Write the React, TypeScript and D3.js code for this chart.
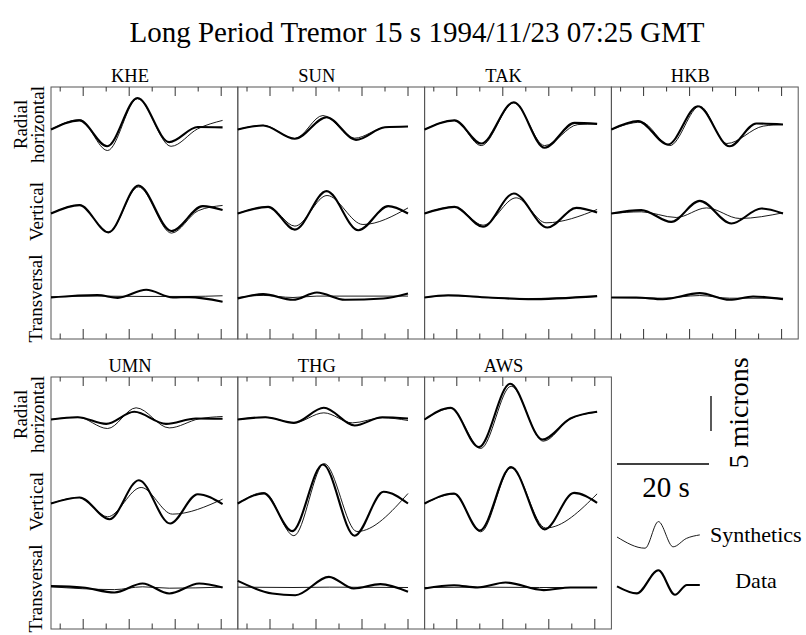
import React from "react";
import * as d3 from "d3";

type P = [number, number];

// ---- data: [time (s), displacement (microns)] ----
const KHE_R_D: P[] = [[0,0],[6.2,1.3],[12.2,-2.4],[18.8,4.5],[25.7,-1.8],[31.9,0.35],[37.3,0.3]];
const KHE_R_S: P[] = [[0,0],[6.2,1.4],[12.3,-3.0],[18.8,4.4],[26.1,-2.4],[31.9,0.1],[37.3,1.3]];
const KHE_V_D: P[] = [[0,0],[6.2,1.2],[12.5,-2.7],[19,4.0],[26.2,-2.5],[33,1.05],[37.3,0.5]];
const KHE_V_S: P[] = [[0,0],[6.2,1.2],[12.5,-2.7],[19,3.8],[26.2,-2.8],[32,0.4],[37.3,1.15]];
const KHE_T_D: P[] = [[0,0],[10.1,0.35],[14.5,-0.05],[20.7,1.1],[26.5,0],[30,0.05],[37.3,-0.6]];
const KHE_T_S: P[] = [[0,0.1],[10,0.2],[20,0.15],[30,0.15],[37.3,0.25]];

const SUN_R_D: P[] = [[0,0],[5.5,0.57],[12.4,-1.33],[19.3,1.76],[25.7,-1.48],[32,0.33],[37,0.43]];
const SUN_R_S: P[] = [[0,0],[5.5,0.6],[12.4,-1.3],[18.5,2.0],[25.4,-1.24],[32,0.3],[37,0.43]];
const SUN_V_D: P[] = [[0,0],[6.6,0.95],[12.4,-2.3],[19.3,3.2],[26.2,-2.4],[32.7,1.05],[37,0]];
const SUN_V_S: P[] = [[0,0],[6.6,0.95],[12.4,-1.8],[19.4,2.57],[27.2,-1.57],[37,0.8]];
const SUN_T_D: P[] = [[0,-0.14],[5.5,0.48],[12,-0.33],[17.2,0.71],[23.3,-0.33],[31.6,-0.14],[37,0.57]];
const SUN_T_S: P[] = [[0,0],[5.5,0.3],[12,0],[17.2,0.2],[37,0.2]];

const TAK_R_D: P[] = [[0,0],[6.5,1.3],[12.3,-2.0],[19.4,3.9],[26.1,-2.6],[32.6,0.95],[37.5,0.8]];
const TAK_R_S: P[] = [[0,0],[6.5,1.3],[12.3,-2.3],[19.4,3.8],[26.1,-2.3],[33.3,0.7],[37.5,0.8]];
const TAK_V_D: P[] = [[0,0],[6.5,0.95],[12.7,-1.9],[19.4,2.86],[26.7,-2.0],[33,0.8],[37.5,0.14]];
const TAK_V_S: P[] = [[0,0],[6.5,0.95],[12.7,-1.67],[19.9,2.24],[26.4,-1.33],[37.5,0.57]];
const TAK_T_D: P[] = [[0,0],[5.1,0.33],[13.8,0],[22.5,-0.24],[37.5,0.2]];
const TAK_T_S: P[] = [[0,0],[5.1,0.25],[14,0],[22.5,-0.15],[37.5,0.15]];

const HKB_R_D: P[] = [[0,0],[5.8,1.2],[12.3,-2.14],[18.8,3.33],[25.7,-2.4],[31.5,0.86],[37.3,0.71]];
const HKB_R_S: P[] = [[0,0],[6.5,1.05],[12.7,-2.3],[19.2,3.33],[25.1,-2.0],[33,0.48],[37.3,0.71]];
const HKB_V_D: P[] = [[0,0],[6.5,0.48],[13,-1.2],[19.2,1.8],[26.1,-1.43],[32.6,0.71],[37.3,0]];
const HKB_V_S: P[] = [[0,0],[6.5,0.24],[14.1,-0.57],[20.7,0.8],[27.9,-0.71],[37.3,0.1]];
const HKB_T_D: P[] = [[0,0],[5.4,0],[11.2,-0.24],[19.2,0.62],[25.7,-0.33],[30.8,0.14],[37.3,-0.24]];
const HKB_T_S: P[] = [[0,0],[11,-0.1],[19.2,0.28],[25.7,-0.1],[37.3,-0.1]];

const UMN_R_D: P[] = [[0,0],[5.8,0.33],[12,-0.62],[18.1,1.1],[25,-0.62],[31.5,0.14],[37.3,0.1]];
const UMN_R_S: P[] = [[0,0],[5.8,0.33],[12.3,-1.29],[18.5,1.67],[25.7,-1.2],[32.2,0.1],[37.3,0.43]];
const UMN_V_D: P[] = [[0,0],[6.2,0.86],[12.7,-2.24],[19.1,3.33],[25.9,-2.86],[31.9,1.33],[37.3,-0.1]];
const UMN_V_S: P[] = [[0,0],[6.2,0.86],[12.3,-1.9],[19.6,2.29],[26.4,-1.52],[37.3,0.62]];
const UMN_T_D: P[] = [[0,0.2],[6.9,0],[13.8,-0.71],[19.9,0.57],[25.7,-0.86],[32.2,0.57],[37.3,0]];
const UMN_T_S: P[] = [[0,0.1],[13.8,-0.3],[19.9,0.1],[25.7,-0.1],[37.3,0.05]];

const THG_R_D: P[] = [[0,0],[6,0.33],[12.2,-0.48],[18.7,1.67],[25.4,-0.86],[31.4,0.33],[37,0.14]];
const THG_R_S: P[] = [[0,0],[6,0.33],[12.2,-0.48],[18.7,0.95],[24.9,-0.48],[31.4,0.25],[37,-0.14]];
const THG_V_D: P[] = [[0,0],[5.7,1.43],[11.8,-3.95],[18.5,5.57],[25.4,-4.6],[31.7,1.67],[37,0]];
const THG_V_S: P[] = [[0,0],[5.7,1.57],[12.2,-4.6],[18.8,5.7],[25.9,-4.0],[37,1.43]];
const THG_T_D: P[] = [[0,0.95],[7.5,-0.86],[12.5,-1.1],[19.8,1.52],[25.2,-0.14],[31,0.48],[37,-0.62]];
const THG_T_S: P[] = [[0,0.05],[12,0],[20,0.05],[37,0]];

const AWS_R_D: P[] = [[0,0],[5.7,1.67],[11.8,-3.95],[18.6,5.1],[25.6,-2.86],[31.7,0.14],[37.5,1.1]];
const AWS_R_S: P[] = [[0,0],[5.7,1.57],[12.2,-4.14],[18.8,4.76],[25.8,-3.1],[31.7,0.1],[37.5,1.05]];
const AWS_V_D: P[] = [[0,0],[6.4,1.43],[12,-3.86],[18.8,5.2],[26.1,-3.7],[32.5,1.52],[37.5,0.1]];
const AWS_V_S: P[] = [[0,0],[6.4,1.33],[12.2,-4.05],[18.8,5.1],[26.3,-3.5],[37.5,1.38]];
const AWS_T_D: P[] = [[0,-0.14],[6.4,0.33],[11.5,0],[17.6,0.71],[25.9,-0.38],[31.7,0],[37.5,0]];
const AWS_T_S: P[] = [[0,0],[12,0.05],[25,0],[37.5,0]];

const LEGEND_SYN: P[] = [[0,0],[6.1,-1.6],[9,2.2],[12.2,-1.4],[15.1,-0.2],[18,0.3]];
const LEGEND_DATA: P[] = [[0,-0.2],[4.3,-1.2],[9,2.1],[12.6,-1.4],[15.2,0],[18,0]];

const STATIONS = ["KHE", "SUN", "TAK", "HKB", "UMN", "THG", "AWS"];
const DATA_TRACES: P[][][] = [
  [KHE_R_D, KHE_V_D, KHE_T_D], [SUN_R_D, SUN_V_D, SUN_T_D], [TAK_R_D, TAK_V_D, TAK_T_D],
  [HKB_R_D, HKB_V_D, HKB_T_D], [UMN_R_D, UMN_V_D, UMN_T_D], [THG_R_D, THG_V_D, THG_T_D],
  [AWS_R_D, AWS_V_D, AWS_T_D],
];
const SYN_TRACES: P[][][] = [
  [KHE_R_S, KHE_V_S, KHE_T_S], [SUN_R_S, SUN_V_S, SUN_T_S], [TAK_R_S, TAK_V_S, TAK_T_S],
  [HKB_R_S, HKB_V_S, HKB_T_S], [UMN_R_S, UMN_V_S, UMN_T_S], [THG_R_S, THG_V_S, THG_T_S],
  [AWS_R_S, AWS_V_S, AWS_T_S],
];
const TICKS = [2, 7, 12, 17, 22, 27, 32, 37];
const LONG_TICKS = [7, 17, 27, 37];
const TITLE = "Long Period Tremor 15 s 1994/11/23 07:25 GMT";

// ---- layout ----
const W = 806, H = 635;
const X0 = 51, COLW = 186.8;
const ROW_TOP = [87, 377];
const ROW_H = 252;
const BAND = 84, BASE_OFF = 42.5;
const PX_PER_S = 4.6, PX_PER_MICRON = 7;
const T_MAX = COLW / PX_PER_S;
const FONT = "'Liberation Serif', 'Times New Roman', serif";

const line = d3.line<P>().curve(d3.curveMonotoneX);

function Panel({ idx }: { idx: number }) {
  const row = idx < 4 ? 0 : 1;
  const col = idx < 4 ? idx : idx - 4;
  const left = X0 + col * COLW;
  const top = ROW_TOP[row];
  const x = d3.scaleLinear().domain([0, T_MAX]).range([left, left + COLW]);
  const bottom = top + ROW_H;
  return (
    <g>
      <rect x={left} y={top} width={COLW} height={ROW_H} fill="none" stroke="#555" strokeWidth={1} />
      {TICKS.map((t) => {
        const len = LONG_TICKS.includes(t) ? 9 : 4.5;
        return (
          <g key={t}>
            <line x1={x(t)} x2={x(t)} y1={top} y2={top + len} stroke="#333" strokeWidth={1} />
            <line x1={x(t)} x2={x(t)} y1={bottom} y2={bottom - len - 1} stroke="#333" strokeWidth={1} />
          </g>
        );
      })}
      <text x={left + 79} y={top - 5.5} textAnchor="middle" fontFamily={FONT} fontSize={18.5}>
        {STATIONS[idx]}
      </text>
      {[0, 1, 2].map((c) => {
        const base = top + BASE_OFF + c * BAND;
        const y = d3.scaleLinear().domain([-1, 1]).range([base + PX_PER_MICRON, base - PX_PER_MICRON]);
        const toPx = (pts: P[]) => line(pts.map(([t, a]) => [x(t), y(a)] as P)) || "";
        return (
          <g key={c}>
            <path d={toPx(SYN_TRACES[idx][c])} fill="none" stroke="#000" strokeWidth={0.9} />
            <path d={toPx(DATA_TRACES[idx][c])} fill="none" stroke="#000" strokeWidth={2.1} strokeLinejoin="round" />
          </g>
        );
      })}
    </g>
  );
}

function RowLabels({ row }: { row: number }) {
  const top = ROW_TOP[row];
  const b = (c: number) => top + BASE_OFF + c * BAND;
  const fs = 19;
  return (
    <g fontFamily={FONT} fontSize={fs}>
      <text transform={`translate(27,${b(0) - 5}) rotate(-90)`} textAnchor="middle">Radial</text>
      <text transform={`translate(44,${b(0) - 5}) rotate(-90)`} textAnchor="middle">horizontal</text>
      <text transform={`translate(43,${b(1) - 2}) rotate(-90)`} textAnchor="middle">Vertical</text>
      <text transform={`translate(42,${b(2) + 1}) rotate(-90)`} textAnchor="middle">Transversal</text>
    </g>
  );
}

function Legend() {
  const lx = 617;
  const x = d3.scaleLinear().domain([0, 1]).range([lx, lx + PX_PER_S]);
  const yS = d3.scaleLinear().domain([0, 1]).range([537, 537 - PX_PER_MICRON]);
  const yD = d3.scaleLinear().domain([0, 1]).range([585, 585 - PX_PER_MICRON]);
  const barY = 464;
  const vbTop = 396;
  return (
    <g fontFamily={FONT}>
      <line x1={x(0)} x2={x(20)} y1={barY} y2={barY} stroke="#000" strokeWidth={1.3} />
      <text x={666} y={497} textAnchor="middle" fontSize={29}>20 s</text>
      <line x1={711} x2={711} y1={vbTop} y2={vbTop + 5 * PX_PER_MICRON} stroke="#000" strokeWidth={1.3} />
      <text transform={`translate(748,413) rotate(-90)`} textAnchor="middle" fontSize={28}>5 microns</text>
      <path d={line(LEGEND_SYN.map(([t, a]) => [x(t), yS(a)] as P)) || ""} fill="none" stroke="#000" strokeWidth={0.9} />
      <path d={line(LEGEND_DATA.map(([t, a]) => [x(t), yD(a)] as P)) || ""} fill="none" stroke="#000" strokeWidth={2.1} />
      <text x={710} y={542} fontSize={22}>Synthetics</text>
      <text x={756} y={588} textAnchor="middle" fontSize={22}>Data</text>
    </g>
  );
}

export default function App() {
  return (
    <svg width={W} height={H} style={{ position: "absolute", left: 0, top: 0, background: "#fff" }}>
      <rect width={W} height={H} fill="#fff" />
      <text x={417} y={42} textAnchor="middle" fontFamily={FONT} fontSize={29}>{TITLE}</text>
      {STATIONS.map((_, i) => <Panel key={i} idx={i} />)}
      <RowLabels row={0} />
      <RowLabels row={1} />
      <Legend />
    </svg>
  );
}
